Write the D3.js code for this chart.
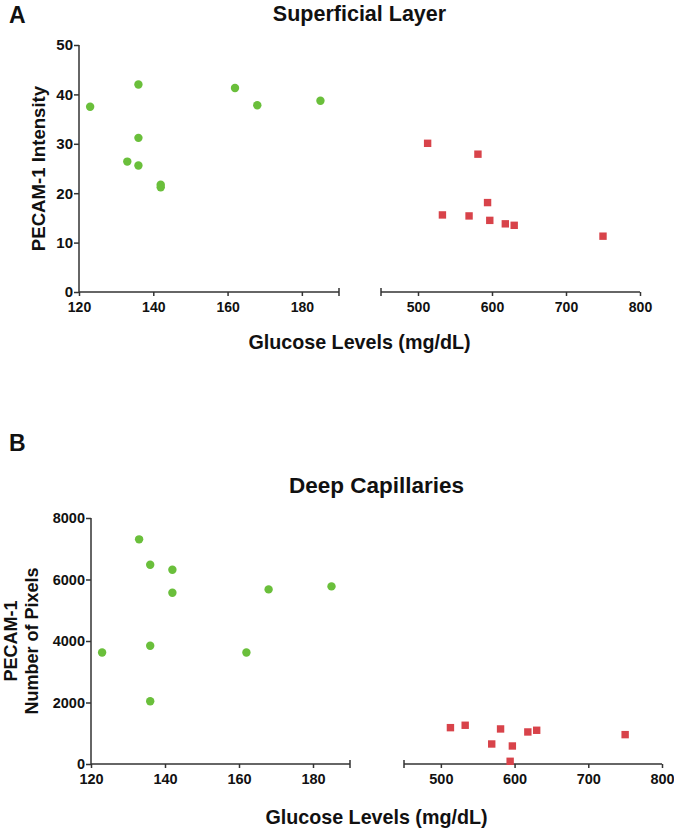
<!DOCTYPE html>
<html><head><meta charset="utf-8">
<script src="https://cdn.jsdelivr.net/npm/d3@7"></script>
<style>
body{margin:0;background:#fff;}
svg text{font-family:"Liberation Sans",Arial,Helvetica,sans-serif;font-weight:bold;fill:#111;}
</style></head>
<body><svg id="c" width="674" height="828"></svg>
<script>
// ---- data ----
const controlGlucose = [123, 133, 136, 136, 136, 142, 142, 162, 168, 185];
const diabeticGlucose = [513, 533, 569, 581, 594, 597, 618, 630, 750];
const superficialControl = [37.5, 26.4, 42.0, 31.2, 25.6, 21.7, 21.2, 41.3, 37.8, 38.7];
const superficialDiabetic = [30.1, 15.6, 15.4, 27.9, 18.1, 14.5, 13.8, 13.5, 11.3];
const deepControl = [3625, 7306, 6482, 3844, 2042, 6319, 5570, 3625, 5678, 5776];
const deepDiabetic = [1182, 1260, 651, 1140, 88, 586, 1042, 1097, 955];
const leftDomain = [120, 190];
const rightDomain = [450, 800];
const leftTicks = [120, 140, 160, 180];
const rightTicks = [500, 600, 700, 800];
const superficialTicks = [0, 10, 20, 30, 40, 50];
const deepTicks = [0, 2000, 4000, 6000, 8000];

const GREEN = "#6abf3b", RED = "#d8434a", AXIS = "#333";
const svg = d3.select("#c");

function styleAxis(a, size) {
  a.select(".domain").attr("stroke", AXIS).attr("stroke-width", 1.5);
  a.selectAll(".tick line").attr("stroke", AXIS).attr("stroke-width", 1.5);
  a.selectAll("text").attr("font-size", size).attr("fill", "#111")
    .attr("font-family", '"Liberation Sans",Arial,sans-serif').attr("font-weight", "bold");
}

function panel(o) {
  const g = svg.append("g");
  const y = d3.scaleLinear().domain(o.yDomain).range([o.bottom, o.top]);
  const xl = d3.scaleLinear().domain(leftDomain).range([o.left, o.leftEnd]);
  const xr = d3.scaleLinear().domain(rightDomain).range([o.rightStart, o.right]);

  const ya = g.append("g").attr("transform", `translate(${o.left},0)`)
    .call(d3.axisLeft(y).tickValues(o.yTicks).tickSize(5).tickPadding(1).tickFormat(d3.format("d")));
  const xa1 = g.append("g").attr("transform", `translate(0,${o.bottom})`)
    .call(d3.axisBottom(xl).tickValues(leftTicks).tickSize(4).tickPadding(6));
  const xa2 = g.append("g").attr("transform", `translate(0,${o.bottom})`)
    .call(d3.axisBottom(xr).tickValues(rightTicks).tickSize(4).tickPadding(6));
  styleAxis(ya, o.yTickFont);
  styleAxis(xa1, o.xTickFont);
  styleAxis(xa2, o.xTickFont);
  xa1.select(".domain").attr("d", `M${xl(leftDomain[0])},0H${xl(leftDomain[1])}`);
  xa2.select(".domain").attr("d", `M${xr(rightDomain[0])},0H${xr(rightDomain[1])}`);
  ya.select(".domain").attr("d", `M0,${y(o.yDomain[0])}V${y(o.yDomain[1])}`);
  [xl(leftDomain[1]), xr(rightDomain[0])].forEach(px => {
    g.append("line").attr("x1", px).attr("x2", px).attr("y1", o.bottom - 4).attr("y2", o.bottom + 4)
      .attr("stroke", AXIS).attr("stroke-width", 1.5);
  });

  g.selectAll(".c").data(controlGlucose.map((v, i) => [v, o.control[i]])).enter()
    .append("circle").attr("cx", d => xl(d[0])).attr("cy", d => y(d[1])).attr("r", 4.2).attr("fill", GREEN);
  const s = 7.4;
  g.selectAll(".d").data(diabeticGlucose.map((v, i) => [v, o.diabetic[i]])).enter()
    .append("rect").attr("x", d => xr(d[0]) - s / 2).attr("y", d => y(d[1]) - s / 2)
    .attr("width", s).attr("height", s).attr("fill", RED);

  const cx = (o.left + o.right) / 2;
  g.append("text").attr("x", 9).attr("y", o.letterY).attr("font-size", 23).text(o.letter);
  g.append("text").attr("x", cx).attr("y", o.titleY).attr("text-anchor", "middle")
    .attr("font-size", o.titleFont).text(o.title);
  g.append("text").attr("x", cx).attr("y", o.xLabelY).attr("text-anchor", "middle")
    .attr("font-size", 19.7).text("Glucose Levels (mg/dL)");
  const cy = (o.top + o.bottom) / 2;
  o.yLabel.forEach((t, i) => {
    g.append("text").attr("transform", `translate(${o.yLabelX[i]},${cy}) rotate(-90)`)
      .attr("text-anchor", "middle").attr("font-size", o.yLabelFont).text(t);
  });
}

panel({
  letter: "A", letterY: 23, title: "Superficial Layer", titleY: 21, titleFont: 21.5,
  top: 45, bottom: 292, left: 79, leftEnd: 339, rightStart: 381, right: 640,
  yDomain: [0, 50], yTicks: superficialTicks, yTickFont: 15, xTickFont: 14,
  control: superficialControl, diabetic: superficialDiabetic,
  xLabelY: 349, yLabel: ["PECAM-1 Intensity"], yLabelX: [45], yLabelFont: 18.6
});
panel({
  letter: "B", letterY: 451, title: "Deep Capillaries", titleY: 493, titleFont: 22.5,
  top: 518, bottom: 764, left: 91, leftEnd: 350, rightStart: 404, right: 662,
  yDomain: [0, 8000], yTicks: deepTicks, yTickFont: 14.5, xTickFont: 14.5,
  control: deepControl, diabetic: deepDiabetic,
  xLabelY: 824, yLabel: ["PECAM-1", "Number of Pixels"], yLabelX: [17, 38], yLabelFont: 18
});
</script></body></html>
